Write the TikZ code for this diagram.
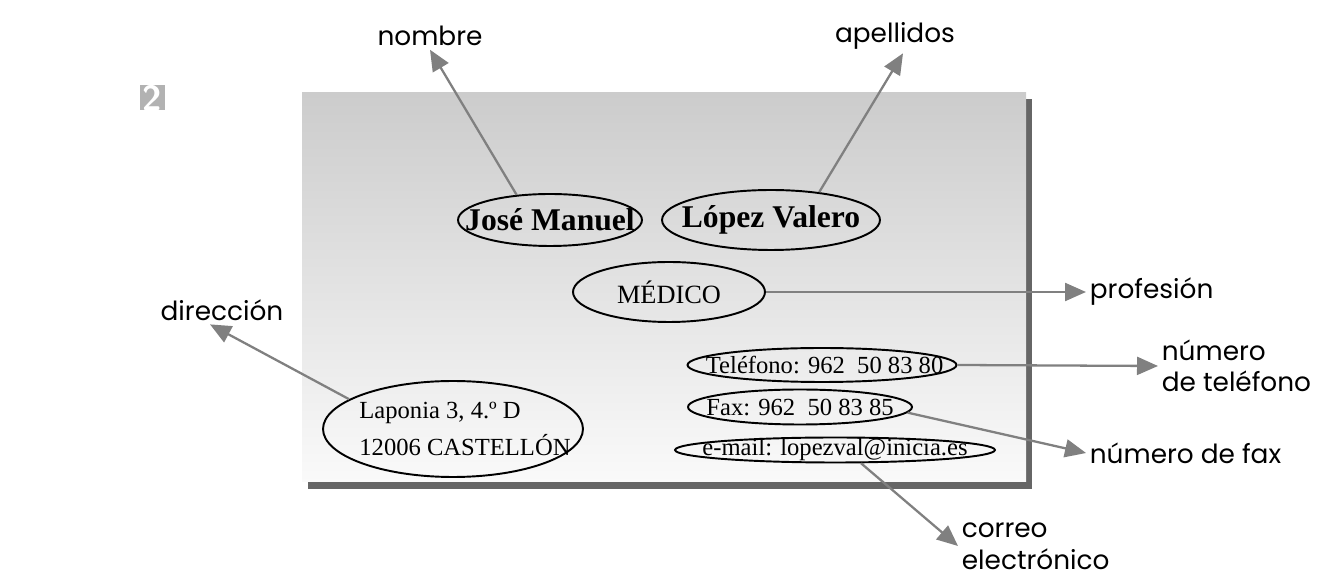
\documentclass[tikz,border=0pt]{standalone}
\usepackage{fontspec}
\setmainfont{Liberation Serif}
\newfontfamily\labelfont{Poppins}
\usetikzlibrary{shapes.geometric, arrows.meta, positioning}

\tikzset{
    oval/.style={ellipse, draw=black, line width=1.1pt, inner sep=0pt},
    cardtext/.style={font=\fontsize{14}{14}\selectfont, inner sep=0pt},
    tag/.style={font=\labelfont\fontsize{15}{18}\selectfont, align=left, inner sep=2pt},
    pointer/.style={draw=black!50, line width=1.3pt, -{Triangle[length=0.42cm, width=0.36cm]}}
}

\begin{document}
\begin{tikzpicture}[x=0.02cm, y=-0.02cm]
        \useasboundingbox (0,0) rectangle (1326,580);
        % number box
        \fill[black!30] (140,85) rectangle (165,110);
        \node[font=\sffamily\bfseries\fontsize{20}{20}\selectfont, text=white] (num) at (152.5,97.5) {2};
        % card with shadow
        \fill[black!60] (308,99) rectangle (1032,489);
        \shade[top color=black!20, bottom color=black!2] (302,93) rectangle (1026,482);
        % ovals on the card
        \node[oval, minimum width=3.68cm, minimum height=1.04cm] (jose) at (550,220) {};
        \node[cardtext, font=\bfseries\fontsize{18}{18}\selectfont] at (jose) {José Manuel};
        \node[oval, minimum width=4.36cm, minimum height=1.2cm] (lopez) at (771,220) {};
        \node[cardtext, font=\bfseries\fontsize{18}{18}\selectfont] at (lopez) {López Valero};
        \node[oval, minimum width=3.84cm, minimum height=1.2cm] (medico) at (669,292) {};
        \node[cardtext, font=\fontsize{15}{15}\selectfont] at (medico) {MÉDICO};
        \node[oval, minimum width=5.2cm, minimum height=1.92cm] (addr) at (453,429) {};
        \node[cardtext, font=\fontsize{14}{21}\selectfont, align=left, anchor=west] at ([xshift=0.74cm]addr.west) {Laponia 3, 4.º D\\12006 CASTELLÓN};
        \node[oval, minimum width=5.38cm, minimum height=0.68cm] (tel) at (822,365) {};
        \node[cardtext, anchor=west] at ([xshift=0.38cm]tel.west) {Teléfono: 962~~50 83 80};
        \node[oval, minimum width=4.48cm, minimum height=0.7cm] (fax) at (800,407) {};
        \node[cardtext, anchor=west] at ([xshift=0.38cm]fax.west) {Fax: 962~~50 83 85};
        \node[oval, minimum width=6.4cm, minimum height=0.5cm] (email) at (835,450) {};
        \node[cardtext] at (email) {e-mail: lopezval@inicia.es};
        % labels
        \node[tag] (nombre) at (430,36) {nombre};
        \node[tag] (apellidos) at (895,36) {apellidos};
        \node[tag] (direccion) at (222,310) {dirección};
        \node[tag, anchor=west] (profesion) at (1086,292) {profesión};
        \node[tag, anchor=west] (numtel) at (1158,366) {número\\de teléfono};
        \node[tag, anchor=west] (numfax) at (1086,453) {número de fax};
        \node[tag, anchor=west] (correo) at (958,546) {correo\\electrónico};
        % pointers
        \draw[pointer] (jose.143) -- (nombre.south);
        \draw[pointer] (lopez.30) -- ([xshift=0.16cm]apellidos.south);
        \draw[pointer] (addr.164) -- ([xshift=-0.24cm]direccion.south);
        \draw[pointer] (medico.east) -- (profesion.west);
        \draw[pointer] (tel.east) -- (numtel.west);
        \draw[pointer] (fax.-3) -- (numfax.west);
        \draw[pointer] (email.-27) -- (correo.west);
    \end{tikzpicture}
\end{document}
